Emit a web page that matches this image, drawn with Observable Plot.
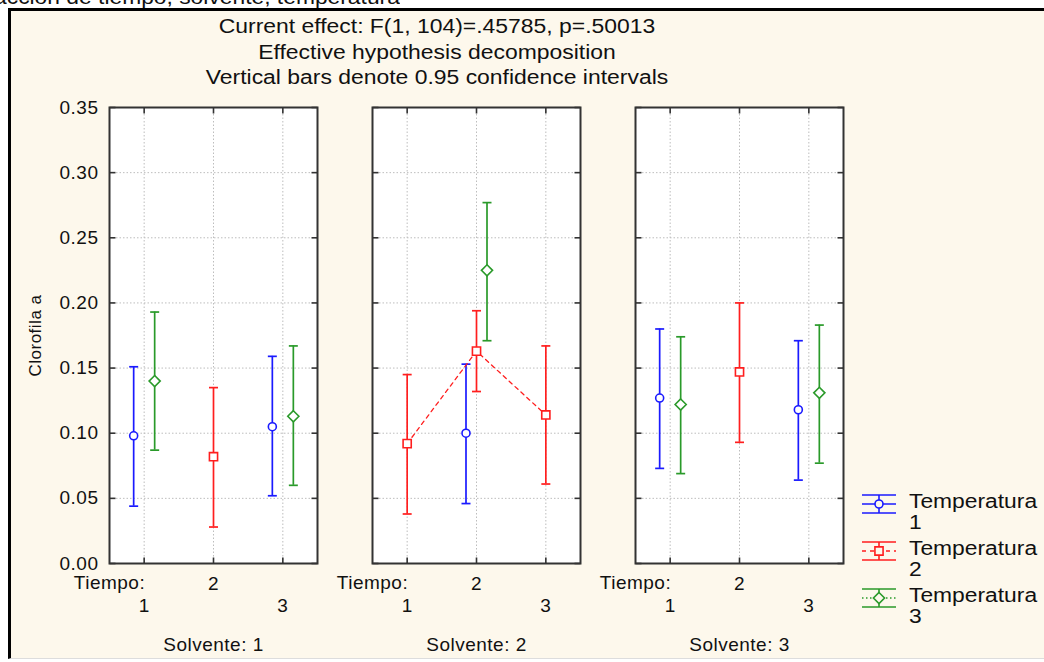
<!DOCTYPE html>
<html>
<head>
<meta charset="utf-8">
<script src="https://cdn.jsdelivr.net/npm/d3@7"></script>
<script src="https://cdn.jsdelivr.net/npm/@observablehq/plot@0.6"></script>
<style>
  body { margin:0; width:1044px; height:662px; overflow:hidden; background:#fff; position:relative;
         font-family:"Liberation Sans", Arial, sans-serif; color:#111; }
  #topcut { position:absolute; left:0; top:0; width:400px; height:8px; overflow:hidden; }
  #topcut span { position:absolute; right:0; top:-14px; font-size:19.5px; transform:scaleX(1.17); transform-origin:right center; white-space:nowrap; }
  #frame { position:absolute; left:8px; top:8px; width:1100px; height:647px; background:#fdf8ec;
           border-left:3px solid #000; border-top:3px solid #000; border-bottom:1px solid #ddd; }
  #titles { position:absolute; left:0; top:14px; width:874px; text-align:center; font-size:19.5px;
            line-height:25.5px; transform:scaleX(1.175); transform-origin:437px 0; }
  #chart { position:absolute; left:0; top:0; }
  #legend { position:absolute; left:860px; top:491px; font-size:19.5px; line-height:21px; }
  .item { position:relative; height:47px; }
  .item svg { position:absolute; left:0; top:0; }
  .item div { position:absolute; left:49px; top:0; white-space:nowrap; transform:scaleX(1.17); transform-origin:0 0; }
</style>
</head>
<body>
<div id="topcut"><span>Interacción de tiempo, solvente, temperatura</span></div>
<div id="frame"></div>
<div id="titles">
  <div>Current effect: F(1, 104)=.45785, p=.50013</div>
  <div>Effective hypothesis decomposition</div>
  <div>Vertical bars denote 0.95 confidence intervals</div>
</div>
<div id="chart"></div>
<div id="legend"></div>
<script>
// ---- data ----
const solvente = [1, 2, 3];
const tiempo = [1, 2, 3];
const yTicks = [0, 0.05, 0.10, 0.15, 0.20, 0.25, 0.30, 0.35];
const seriesNames = ["Temperatura 1", "Temperatura 2", "Temperatura 3"];
const seriesColors = ["#1a1aff", "#ff1e1e", "#2a9a2a"];

// values indexed [solvente][tiempo]; null = no group
const t1Mean = [[0.098, null, 0.105], [null, 0.100, null], [0.127, null, 0.118]];
const t1Lo   = [[0.044, null, 0.052], [null, 0.046, null], [0.073, null, 0.064]];
const t1Hi   = [[0.151, null, 0.159], [null, 0.153, null], [0.180, null, 0.171]];

const t2Mean = [[null, 0.082, null], [0.092, 0.163, 0.114], [null, 0.147, null]];
const t2Lo   = [[null, 0.028, null], [0.038, 0.132, 0.061], [null, 0.093, null]];
const t2Hi   = [[null, 0.135, null], [0.145, 0.194, 0.167], [null, 0.200, null]];

const t3Mean = [[0.140, null, 0.113], [null, 0.225, null], [0.122, null, 0.131]];
const t3Lo   = [[0.087, null, 0.060], [null, 0.171, null], [0.069, null, 0.077]];
const t3Hi   = [[0.193, null, 0.167], [null, 0.277, null], [0.174, null, 0.183]];

// ---- build rows ----
function rows(mean, lo, hi) {
  const out = [];
  solvente.forEach((s, i) => tiempo.forEach((t, j) => {
    out.push({solv: s, t: t, mean: mean[i][j], lo: lo[i][j], hi: hi[i][j]});
  }));
  return out;
}
const series = [
  {data: rows(t1Mean, t1Lo, t1Hi), color: seriesColors[0], dx: -10.5, symbol: "circle", r: 4, dash: null},
  {data: rows(t2Mean, t2Lo, t2Hi), color: seriesColors[1], dx: 0, symbol: "square", r: 4.6, dash: "4,4"},
  {data: rows(t3Mean, t3Lo, t3Hi), color: seriesColors[2], dx: 10.5, symbol: "diamond2", r: 5, dash: "1.5,2.5"}
];

// custom symbols
const cap = {draw(ctx) { ctx.moveTo(-4.5, 0); ctx.lineTo(4.5, 0); }};
const tickLeft = {draw(ctx) { ctx.moveTo(0, 0); ctx.lineTo(6, 0); }};
const tickRight = {draw(ctx) { ctx.moveTo(-6, 0); ctx.lineTo(0, 0); }};
const tickBottom = {draw(ctx) { ctx.moveTo(0, 0); ctx.lineTo(0, -6); }};
const tickTop = {draw(ctx) { ctx.moveTo(0, 0); ctx.lineTo(0, 6); }};

const marks = [
  Plot.frame({fill: "white"}),
  Plot.gridY(yTicks, {stroke: "#bdbdbd", strokeOpacity: 1, strokeDasharray: "1.5,2"}),
  Plot.gridX(tiempo, {stroke: "#bdbdbd", strokeOpacity: 1, strokeDasharray: "1.5,2"}),
  Plot.dot(yTicks, {y: d => d, frameAnchor: "left", symbol: tickLeft, stroke: "#333", strokeWidth: 1.6}),
  Plot.dot(yTicks, {y: d => d, frameAnchor: "right", symbol: tickRight, stroke: "#333", strokeWidth: 1.6}),
  Plot.dot(tiempo, {x: d => d, frameAnchor: "bottom", symbol: tickBottom, stroke: "#333", strokeWidth: 1.6}),
  Plot.dot(tiempo, {x: d => d, frameAnchor: "top", symbol: tickTop, stroke: "#333", strokeWidth: 1.6}),
  Plot.frame({stroke: "#333", strokeWidth: 2})
];

series.forEach(s => {
  const valid = s.data.filter(d => d.mean != null);
  marks.push(
    Plot.ruleX(valid, {x: "t", y1: "lo", y2: "hi", fx: "solv", dx: s.dx, stroke: s.color, strokeWidth: 1.7}),
    Plot.dot(valid, {x: "t", y: "lo", fx: "solv", dx: s.dx, symbol: cap, stroke: s.color, strokeWidth: 1.7}),
    Plot.dot(valid, {x: "t", y: "hi", fx: "solv", dx: s.dx, symbol: cap, stroke: s.color, strokeWidth: 1.7})
  );
});
series.forEach(s => {
  marks.push(Plot.line(s.data, {x: "t", y: "mean", fx: "solv", z: "solv", dx: s.dx, stroke: s.color,
    strokeWidth: 1.3, strokeDasharray: s.dash}));
});
series.forEach(s => {
  const valid = s.data.filter(d => d.mean != null);
  marks.push(Plot.dot(valid, {x: "t", y: "mean", fx: "solv", dx: s.dx, symbol: s.symbol, r: s.r,
    fill: "white", stroke: s.color, strokeWidth: 1.6}));
});

// axes / labels
marks.push(
  Plot.axisY(yTicks, {anchor: "left", tickSize: 0, tickPadding: 11, tickFormat: d3.format(".2f"),
    fontSize: 19, label: null}),
  Plot.text(["Clorofila a"], {fx: () => 1, frameAnchor: "left", dx: -74, rotate: -90, fontSize: 17,
    textAnchor: "middle", text: d => d}),
  Plot.text(["Tiempo:"], {frameAnchor: "bottom-left", dy: 19, lineAnchor: "middle", textAnchor: "middle", fontSize: 19, text: d => d}),
  Plot.text(tiempo.filter(t => t % 2 === 0), {x: d => d, frameAnchor: "bottom", dy: 20, lineAnchor: "middle", fontSize: 19, text: d => String(d)}),
  Plot.text(tiempo.filter(t => t % 2 === 1), {x: d => d, frameAnchor: "bottom", dy: 42, lineAnchor: "middle", fontSize: 19, text: d => String(d)}),
  Plot.text(solvente, {fx: d => d, frameAnchor: "bottom", dy: 81, lineAnchor: "middle", fontSize: 19, text: d => `Solvente: ${d}`})
);

const chart = Plot.plot({
  width: 1044, height: 662,
  marginTop: 107, marginBottom: 99, marginLeft: 109, marginRight: 201,
  style: {background: "transparent", fontFamily: "Liberation Sans, Arial, sans-serif", color: "#111",
          overflow: "visible", letterSpacing: "0.5px"},
  fx: {domain: solvente, paddingInner: 0.21, paddingOuter: 0, axis: null, label: null},
  x: {domain: [0.5, 3.5], axis: null},
  y: {domain: [0, 0.35], axis: null},
  marks
});
document.getElementById("chart").appendChild(chart);

// legend
const legend = d3.select("#legend");
series.forEach((s, i) => {
  const item = legend.append("div").attr("class", "item");
  const svg = item.append("svg").attr("width", 40).attr("height", 26);
  const cx = 19, cy = 13;
  svg.append("line").attr("x1", 2).attr("x2", 36).attr("y1", 4).attr("y2", 4).attr("stroke", s.color).attr("stroke-width", 1.6);
  svg.append("line").attr("x1", 2).attr("x2", 36).attr("y1", 22).attr("y2", 22).attr("stroke", s.color).attr("stroke-width", 1.6);
  svg.append("line").attr("x1", cx).attr("x2", cx).attr("y1", 4).attr("y2", 22).attr("stroke", s.color).attr("stroke-width", 1.6);
  svg.append("line").attr("x1", 2).attr("x2", 36).attr("y1", cy).attr("y2", cy).attr("stroke", s.color)
    .attr("stroke-width", 1.3).attr("stroke-dasharray", s.dash);
  const symType = s.symbol === "circle" ? d3.symbolCircle : s.symbol === "square" ? d3.symbolSquare : d3.symbolDiamond2;
  svg.append("path").attr("d", d3.symbol(symType, Math.PI * s.r * s.r)()).attr("transform", `translate(${cx},${cy})`)
    .attr("fill", "#fdf8ec").attr("stroke", s.color).attr("stroke-width", 1.6);
  const parts = seriesNames[i].split(" ");
  item.append("div").html(`${parts[0]}<br>${parts[1]}`);
});
</script>
</body>
</html>
